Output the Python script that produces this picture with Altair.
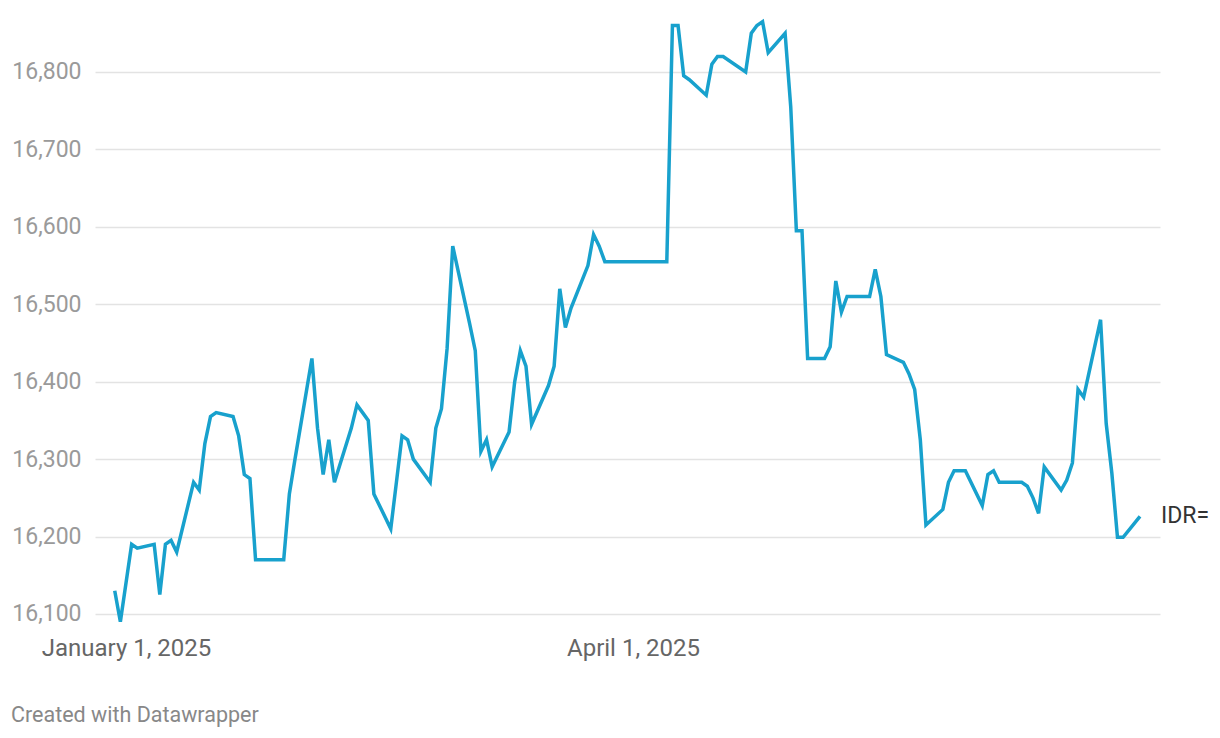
import altair as alt
import pandas as pd

dates = [
    "2024-12-30", "2024-12-31", "2025-01-02", "2025-01-03", "2025-01-06", "2025-01-07",
    "2025-01-08", "2025-01-09", "2025-01-10", "2025-01-13", "2025-01-14", "2025-01-15",
    "2025-01-16", "2025-01-17", "2025-01-20", "2025-01-21", "2025-01-22", "2025-01-23",
    "2025-01-24", "2025-01-27", "2025-01-28", "2025-01-29", "2025-01-30", "2025-01-31",
    "2025-02-03", "2025-02-04", "2025-02-05", "2025-02-06", "2025-02-07", "2025-02-10",
    "2025-02-11", "2025-02-12", "2025-02-13", "2025-02-14", "2025-02-17", "2025-02-18",
    "2025-02-19", "2025-02-20", "2025-02-21", "2025-02-24", "2025-02-25", "2025-02-26",
    "2025-02-27", "2025-02-28", "2025-03-03", "2025-03-04", "2025-03-05", "2025-03-06",
    "2025-03-07", "2025-03-10", "2025-03-11", "2025-03-12", "2025-03-13", "2025-03-14",
    "2025-03-17", "2025-03-18", "2025-03-19", "2025-03-20", "2025-03-21", "2025-03-24",
    "2025-03-25", "2025-03-26", "2025-03-27", "2025-03-28", "2025-03-31", "2025-04-01",
    "2025-04-02", "2025-04-03", "2025-04-04", "2025-04-07", "2025-04-08", "2025-04-09",
    "2025-04-10", "2025-04-11", "2025-04-14", "2025-04-15", "2025-04-16", "2025-04-17",
    "2025-04-21", "2025-04-22", "2025-04-23", "2025-04-24", "2025-04-25", "2025-04-28",
    "2025-04-29", "2025-04-30", "2025-05-01", "2025-05-02", "2025-05-05", "2025-05-06",
    "2025-05-07", "2025-05-08", "2025-05-09", "2025-05-12", "2025-05-13", "2025-05-14",
    "2025-05-15", "2025-05-16", "2025-05-19", "2025-05-20", "2025-05-21", "2025-05-22",
    "2025-05-23", "2025-05-26", "2025-05-27", "2025-05-28", "2025-05-29", "2025-05-30",
    "2025-06-02", "2025-06-03", "2025-06-04", "2025-06-05", "2025-06-06", "2025-06-09",
    "2025-06-10", "2025-06-11", "2025-06-12", "2025-06-13", "2025-06-16", "2025-06-17",
    "2025-06-18", "2025-06-19", "2025-06-20", "2025-06-23", "2025-06-24", "2025-06-25",
    "2025-06-26", "2025-06-27", "2025-06-30",
]

values = [
    16130, 16090, 16190, 16185, 16190, 16125,
    16190, 16195, 16180, 16270, 16260, 16320,
    16355, 16360, 16355, 16330, 16280, 16275,
    16170, 16170, 16170, 16170, 16255, 16300,
    16430, 16340, 16280, 16325, 16270, 16340,
    16370, 16360, 16350, 16255, 16210, 16270,
    16330, 16325, 16300, 16270, 16340, 16365,
    16443, 16575, 16475, 16440, 16310, 16325,
    16290, 16335, 16400, 16440, 16420, 16345,
    16395, 16420, 16520, 16470, 16495, 16550,
    16590, 16575, 16555, 16555, 16555, 16555,
    16555, 16555, 16555, 16555, 16860, 16860,
    16795, 16790, 16770, 16810, 16820, 16820,
    16800, 16850, 16860, 16865, 16825, 16850,
    16755, 16595, 16595, 16430, 16430, 16445,
    16530, 16490, 16510, 16510, 16510, 16545,
    16510, 16435, 16425, 16410, 16390, 16325,
    16215, 16235, 16270, 16285, 16285, 16285,
    16240, 16280, 16285, 16270, 16270, 16270,
    16265, 16250, 16230, 16290, 16260, 16273,
    16295, 16390, 16380, 16480, 16346, 16282,
    16199, 16199, 16226,
]

series_name = "IDR="
y_ticks = [16100, 16200, 16300, 16400, 16500, 16600, 16700, 16800]
footer = "Created with Datawrapper"

df = pd.DataFrame({"date": dates, "value": values})
last = df.tail(1).assign(label=series_name)

FONT = "Roboto"

x_scale = alt.Scale(
    type="utc",
    domain=[
        alt.DateTime(year=2024, month=12, date=26, hours=11, minutes=56, utc=True),
        alt.DateTime(year=2025, month=7, date=3, hours=13, minutes=12, utc=True),
    ],
)
y_scale = alt.Scale(domain=[16079.3, 16880], nice=False, zero=False)

x_axis = alt.Axis(
    title=None,
    values=[alt.DateTime(year=2025, month=1, date=1, utc=True),
            alt.DateTime(year=2025, month=4, date=1, utc=True)],
    labelExpr="utcFormat(datum.value, '%B %-d, %Y')",
    grid=False,
    domain=False,
    ticks=False,
    labelFont=FONT,
    labelFontSize=24,
    labelColor="#666666",
    labelPadding=6,
    labelFlush=False,
    labelOverlap=False,
)
y_axis = alt.Axis(
    title=None,
    values=y_ticks,
    labelExpr="format(datum.value, ',')",
    domain=False,
    ticks=False,
    grid=True,
    gridColor="#e3e3e3",
    gridWidth=1.5,
    labelFont=FONT,
    labelFontSize=23,
    labelColor="#9a9a9a",
    labelPadding=14,
)

x_enc = alt.X("date:T", scale=x_scale, axis=x_axis)
y_enc = alt.Y("value:Q", scale=y_scale, axis=y_axis)

line = alt.Chart(df).mark_line(color="#18a1cd", strokeWidth=3.5, clip=False).encode(
    x=x_enc, y=y_enc
)

end_label = alt.Chart(last).mark_text(
    align="left", baseline="middle", dx=21, font=FONT, fontSize=23, color="#333333"
).encode(x=x_enc, y=y_enc, text="label:N")

foot = alt.Chart(pd.DataFrame({"t": [footer]})).mark_text(
    align="left", baseline="alphabetic", font=FONT, fontSize=21.5, color="#888888"
).encode(x=alt.value(-84), y=alt.value(712), text="t:N")

chart = (
    alt.layer(line, end_label, foot)
    .properties(
        width=1065,
        height=620,
        background="white",
        autosize=alt.AutoSizeParams(type="none"),
        padding={"left": 87, "top": 2, "right": 52, "bottom": 98},
    )
    .configure_view(strokeWidth=0, stroke="transparent")
)

chart.save("out.html", embed_options={"renderer": "svg", "actions": False})
